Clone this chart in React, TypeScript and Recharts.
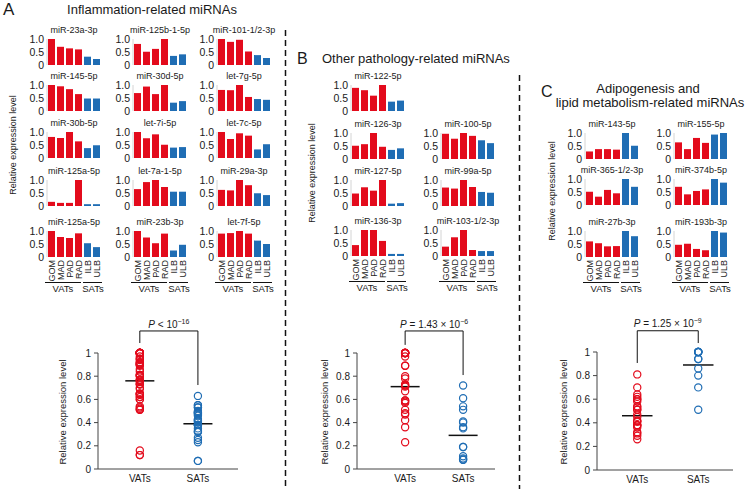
import React from "react";
import {
  Bar,
  BarChart,
  Cell,
  ReferenceLine,
  Scatter,
  ScatterChart,
  XAxis,
  YAxis,
} from "recharts";

const FONT = "'Liberation Sans', Arial, Helvetica, sans-serif";
const RED = "#e30b1c";
const BLUE = "#1f6db4";
const INK = "#1a1a1a";

const tissues = ["GOM", "MAD", "PAD", "RAD", "ILB", "ULB"];

// A: inflammation-related miRNAs (row by row, 3 per row)
const inflNames = [
  "miR-23a-3p", "miR-125b-1-5p", "miR-101-1/2-3p",
  "miR-145-5p", "miR-30d-5p", "let-7g-5p",
  "miR-30b-5p", "let-7i-5p", "let-7c-5p",
  "miR-125a-5p", "let-7a-1-5p", "miR-29a-3p",
  "miR-125a-5p", "miR-23b-3p", "let-7f-5p",
];
const inflValues = [
  [1.0, 0.7, 0.64, 0.6, 0.32, 0.23],
  [0.81, 0.51, 0.62, 1.0, 0.35, 0.41],
  [1.0, 0.89, 0.97, 0.52, 0.38, 0.27],
  [1.0, 0.95, 0.84, 0.65, 0.48, 0.48],
  [0.69, 0.94, 0.65, 1.0, 0.32, 0.38],
  [0.81, 0.8, 1.0, 0.54, 0.46, 0.43],
  [0.81, 0.77, 1.0, 0.64, 0.38, 0.49],
  [1.0, 0.76, 0.91, 0.51, 0.4, 0.42],
  [1.0, 0.73, 0.95, 0.86, 0.33, 0.53],
  [0.16, 0.12, 0.12, 1.0, 0.07, 0.07],
  [0.65, 0.92, 1.0, 0.73, 0.55, 0.55],
  [0.62, 0.6, 1.0, 0.8, 0.49, 0.42],
  [1.0, 0.77, 0.73, 0.91, 0.53, 0.38],
  [1.0, 0.75, 0.53, 0.9, 0.25, 0.47],
  [0.9, 0.92, 1.0, 0.9, 0.63, 0.5],
];

// B: other pathology-related miRNAs
const pathNames = [
  "miR-122-5p",
  "miR-126-3p", "miR-100-5p",
  "miR-127-5p", "miR-99a-5p",
  "miR-136-3p", "miR-103-1/2-3p",
];
const pathValues = [
  [0.89, 0.8, 0.59, 1.0, 0.36, 0.4],
  [0.51, 0.57, 1.0, 0.47, 0.35, 0.41],
  [0.97, 0.78, 1.0, 0.89, 0.72, 0.61],
  [0.48, 0.72, 0.59, 1.0, 0.09, 0.11],
  [0.71, 0.67, 1.0, 0.73, 0.54, 0.51],
  [0.42, 1.0, 1.0, 0.58, 0.08, 0.08],
  [0.36, 0.72, 1.0, 0.23, 0.19, 0.19],
];

// C: adipogenesis / lipid metabolism-related miRNAs
const lipidNames = [
  "miR-143-5p", "miR-155-5p",
  "miR-365-1/2-3p", "miR-374b-5p",
  "miR-27b-3p", "miR-193b-3p",
];
const lipidValues = [
  [0.29, 0.38, 0.38, 0.36, 1.0, 0.51],
  [0.64, 0.38, 0.81, 0.62, 0.94, 1.0],
  [0.51, 0.32, 0.58, 0.45, 1.0, 0.7],
  [0.7, 0.41, 0.54, 0.6, 1.0, 0.86],
  [0.6, 0.53, 0.41, 0.42, 1.0, 0.8],
  [0.47, 0.51, 0.31, 0.26, 1.0, 0.94],
];

// group means (VATs, SATs)
const inflMeans = [0.76, 0.39];
const pathMeans = [0.71, 0.29];
const lipidMeans = [0.46, 0.89];

const yTicksMini = [0, 0.5, 1];
const yTicksDot = [0, 0.2, 0.4, 0.6, 0.8, 1];

const vats = (rows: number[][]) => rows.flatMap((r) => r.slice(0, 4));
const sats = (rows: number[][]) => rows.flatMap((r) => r.slice(4));

function CatTick(props: any) {
  const { x, y, payload } = props;
  return (
    <text
      x={x}
      y={y}
      transform={`rotate(-90 ${x} ${y})`}
      textAnchor="end"
      dominantBaseline="central"
      fontSize={9}
      fill={INK}
      fontFamily={FONT}
    >
      {payload.value}
    </text>
  );
}

function Groups({ left, base }: { left: number; base: number }) {
  const ln: React.CSSProperties = {
    position: "absolute",
    borderTop: "1px solid #111",
    top: base + 25,
    height: 0,
  };
  const tx: React.CSSProperties = {
    position: "absolute",
    top: base + 26,
    width: 40,
    fontSize: 9.5,
    lineHeight: "11px",
    textAlign: "center",
  };
  return (
    <>
      <div style={{ ...ln, left: left - 2, width: 36 }} />
      <div style={{ ...ln, left: left + 36, width: 19 }} />
      <div style={{ ...tx, left: left + 16 - 20 }}>VATs</div>
      <div style={{ ...tx, left: left + 46 - 20 }}>SATs</div>
    </>
  );
}

function MiniBar({
  title,
  values,
  left,
  base,
  cats,
}: {
  title: string;
  values: number[];
  left: number;
  base: number;
  cats: boolean;
}) {
  const data = tissues.map((t, i) => ({ t, v: values[i] }));
  const yw = 26;
  const h = 26;
  const mt = 6;
  const xh = cats ? 28 : 0;
  const mb = cats ? 0 : 7;
  return (
    <>
      <div
        style={{
          position: "absolute",
          left: left - 23,
          width: 100,
          top: base - 41,
          fontSize: 9,
          lineHeight: "12px",
          textAlign: "center",
          whiteSpace: "nowrap",
        }}
      >
        {title}
      </div>
      <div style={{ position: "absolute", left: left - yw, top: base - h - mt }}>
        <BarChart
          width={yw + 56}
          height={mt + h + xh + mb}
          data={data}
          margin={{ top: mt, right: 2, bottom: mb, left: 0 }}
          barCategoryGap={1}
        >
          <XAxis
            dataKey="t"
            hide={!cats}
            height={xh}
            tickLine={false}
            axisLine={false}
            tickSize={0}
            tickMargin={3}
            interval={0}
            tick={<CatTick />}
          />
          <YAxis
            domain={[0, 1]}
            ticks={yTicksMini}
            interval={0}
            width={yw}
            tickLine={false}
            tickSize={0}
            tickMargin={3}
            axisLine={{ stroke: "#d4d4d4" }}
            tick={{ fontSize: 10.5, fill: INK, fontFamily: FONT }}
            tickFormatter={(v: number) => (v === 0 ? "0" : v.toFixed(1))}
          />
          <Bar dataKey="v" isAnimationActive={false}>
            {data.map((d, i) => (
              <Cell key={d.t} fill={i < 4 ? RED : BLUE} />
            ))}
          </Bar>
        </BarChart>
      </div>
      {cats && <Groups left={left} base={base} />}
    </>
  );
}

function DotPlot({
  v,
  s,
  means,
  left,
  top,
  w,
  h,
  xMax,
  vx,
  bracket,
  p,
  exp,
}: {
  v: number[];
  s: number[];
  means: number[];
  left: number;
  top: number;
  w: number;
  h: number;
  xMax: number;
  vx: number;
  bracket: number[];
  p: string;
  exp: string;
}) {
  const yw = 40;
  const mt = 30;
  const xh = 22;
  const sx = vx + 1;
  const vPts = v.map((y) => ({ x: vx, y }));
  const sPts = s.map((y) => ({ x: sx, y }));
  const line = { stroke: "#111", strokeWidth: 1, ifOverflow: "visible" as const };
  const mid = left + ((vx + 0.5) / xMax) * w;
  return (
    <>
      <div
        style={{
          position: "absolute",
          left: mid - 60,
          width: 120,
          top: top - 34,
          textAlign: "center",
          fontSize: 10,
          lineHeight: "12px",
          whiteSpace: "nowrap",
        }}
      >
        <i>P</i> {p}
        <span style={{ fontSize: 7, position: "relative", top: -4 }}>{exp}</span>
      </div>
      <div style={{ position: "absolute", left: left - yw, top: top - mt }}>
        <ScatterChart
          width={yw + w + 4}
          height={mt + h + xh}
          margin={{ top: mt, right: 4, bottom: 0, left: 0 }}
        >
          <XAxis
            type="number"
            dataKey="x"
            domain={[0, xMax]}
            ticks={[vx, sx]}
            tickFormatter={(t: number) => (t < vx + 0.5 ? "VATs" : "SATs")}
            height={xh}
            tickLine={false}
            tickSize={0}
            tickMargin={6}
            axisLine={{ stroke: "#444" }}
            tick={{ fontSize: 10, fill: INK, fontFamily: FONT }}
          />
          <YAxis
            type="number"
            dataKey="y"
            domain={[0, 1]}
            ticks={yTicksDot}
            interval={0}
            width={yw}
            tickSize={4}
            tickMargin={3}
            axisLine={{ stroke: "#444" }}
            tickLine={{ stroke: "#444" }}
            tick={{ fontSize: 10, fill: INK, fontFamily: FONT }}
            tickFormatter={(t: number) => (t === 0 || t === 1 ? String(t) : t.toFixed(1))}
          />
          <Scatter
            data={vPts}
            isAnimationActive={false}
            shape={(pp: any) => (
              <circle cx={pp.cx} cy={pp.cy} r={3.6} fill="none" stroke={RED} strokeWidth={1.2} />
            )}
          />
          <Scatter
            data={sPts}
            isAnimationActive={false}
            shape={(pp: any) => (
              <circle cx={pp.cx} cy={pp.cy} r={3.6} fill="none" stroke={BLUE} strokeWidth={1.2} />
            )}
          />
          <ReferenceLine
            segment={[{ x: vx - 0.25, y: means[0] }, { x: vx + 0.25, y: means[0] }]}
            {...line}
            strokeWidth={1.5}
          />
          <ReferenceLine
            segment={[{ x: sx - 0.25, y: means[1] }, { x: sx + 0.25, y: means[1] }]}
            {...line}
            strokeWidth={1.5}
          />
          <ReferenceLine segment={[{ x: vx, y: bracket[0] }, { x: vx, y: bracket[1] }]} {...line} />
          <ReferenceLine segment={[{ x: vx, y: bracket[1] }, { x: sx, y: bracket[1] }]} {...line} />
          <ReferenceLine segment={[{ x: sx, y: bracket[1] }, { x: sx, y: bracket[2] }]} {...line} />
        </ScatterChart>
      </div>
    </>
  );
}

function VLabel({ x, y, size = 9.5 }: { x: number; y: number; size?: number }) {
  return (
    <div
      style={{
        position: "absolute",
        left: x,
        top: y,
        transform: "translate(-50%, -50%) rotate(-90deg)",
        whiteSpace: "nowrap",
        fontSize: size,
        lineHeight: "12px",
      }}
    >
      Relative expression level
    </div>
  );
}

const txt = (x: number, y: number, size: number, extra: React.CSSProperties = {}): React.CSSProperties => ({
  position: "absolute",
  left: x,
  top: y - size * 0.6,
  fontSize: size,
  lineHeight: `${Math.round(size * 1.2)}px`,
  whiteSpace: "nowrap",
  ...extra,
});

export default function App() {
  const aCols = [47, 133, 217];
  const aBases = [65, 111, 158, 206, 257];
  const bCols = [351, 441];
  const bBases = [111, 159, 206, 256];
  const bGrid = [[0, 0], [0, 1], [1, 1], [0, 2], [1, 2], [0, 3], [1, 3]];
  const cCols = [585, 674];
  const cBases = [159, 205, 257];

  return (
    <div
      style={{
        position: "absolute",
        left: 0,
        top: 0,
        width: 748,
        height: 489,
        background: "#fff",
        overflow: "hidden",
        fontFamily: FONT,
        color: INK,
      }}
    >
      <svg width={748} height={489} style={{ position: "absolute", left: 0, top: 0 }}>
        <line x1={285.5} y1={30} x2={285.5} y2={489} stroke="#111" strokeWidth={1.5} strokeDasharray="6 4" />
        <line x1={519.5} y1={75} x2={519.5} y2={489} stroke="#111" strokeWidth={1.5} strokeDasharray="6 4" />
      </svg>

      <div style={txt(3, 10, 17)}>A</div>
      <div style={txt(152, 10, 13, { transform: "translateX(-50%)" })}>Inflammation-related miRNAs</div>
      <div style={txt(297, 59, 16)}>B</div>
      <div style={txt(322, 59, 13)}>Other pathology-related miRNAs</div>
      <div style={txt(541, 92, 16)}>C</div>
      <div style={txt(648, 89, 13, { transform: "translateX(-50%)" })}>Adipogenesis and</div>
      <div style={txt(650, 103, 13, { transform: "translateX(-50%)" })}>lipid metabolism-related miRNAs</div>

      <VLabel x={13} y={145} size={9} />
      <VLabel x={312} y={173} size={9} />
      <VLabel x={552} y={191} size={9} />

      {inflNames.map((n, i) => (
        <MiniBar
          key={"a" + i}
          title={n}
          values={inflValues[i]}
          left={aCols[i % 3]}
          base={aBases[Math.floor(i / 3)]}
          cats={Math.floor(i / 3) === 4}
        />
      ))}
      {pathNames.map((n, i) => (
        <MiniBar
          key={"b" + i}
          title={n}
          values={pathValues[i]}
          left={bCols[bGrid[i][0]]}
          base={bBases[bGrid[i][1]]}
          cats={bGrid[i][1] === 3}
        />
      ))}
      {lipidNames.map((n, i) => (
        <MiniBar
          key={"c" + i}
          title={n}
          values={lipidValues[i]}
          left={cCols[i % 2]}
          base={cBases[Math.floor(i / 2)]}
          cats={Math.floor(i / 2) === 2}
        />
      ))}

      <VLabel x={63} y={412} />
      <VLabel x={325} y={412} />
      <VLabel x={564} y={412} />

      <DotPlot
        v={vats(inflValues)}
        s={sats(inflValues)}
        means={inflMeans}
        left={98}
        top={353}
        w={140}
        h={116}
        xMax={2.41}
        vx={0.72}
        bracket={[1.086, 1.19, 0.724]}
        p="< 10"
        exp="−16"
      />
      <DotPlot
        v={vats(pathValues)}
        s={sats(pathValues)}
        means={pathMeans}
        left={357}
        top={353}
        w={138}
        h={116}
        xMax={2.38}
        vx={0.83}
        bracket={[1.07, 1.19, 0.81]}
        p="= 1.43 × 10"
        exp="−6"
      />
      <DotPlot
        v={vats(lipidValues)}
        s={sats(lipidValues)}
        means={lipidMeans}
        left={597}
        top={352}
        w={136}
        h={118}
        xMax={2.23}
        vx={0.66}
        bracket={[0.907, 1.18, 1.076]}
        p="= 1.25 × 10"
        exp="−9"
      />
    </div>
  );
}
